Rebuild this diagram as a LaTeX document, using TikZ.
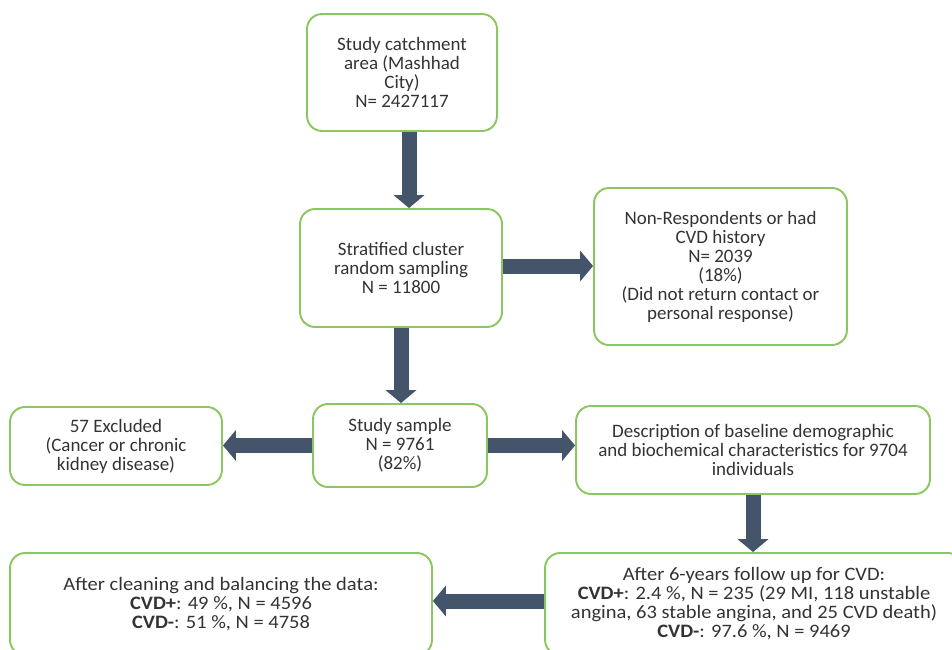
\documentclass[tikz,border=0pt]{standalone}
\usepackage{fontspec}
\setmainfont{Carlito}
\newfontfamily\widefont[FakeStretch=1.08]{Carlito}
\usetikzlibrary{arrows.meta, calc}
\definecolor{boxgreen}{RGB}{140,198,96}
\definecolor{arrowslate}{RGB}{68,84,106}

\begin{document}
\begin{tikzpicture}[x=0.02cm, y=-0.02cm,
  every node/.style={font=\fontsize{10.8}{10.8}\selectfont, text=black!80},
  flowbox/.style={draw=boxgreen, line width=1.1pt, rounded corners=0.3cm, align=center, inner sep=0pt},
  widebox/.style={flowbox, font=\widefont\fontsize{10.8}{10.8}\selectfont},
  blockarr/.style={draw=arrowslate, line width=0.3cm, -{Triangle[length=0.26cm, width=0.62cm, line width=0pt]}}]
  \useasboundingbox (0,0) rectangle (952,649);
  \clip (0,0) rectangle (952,649);
  % boxes
  \node[flowbox, minimum width=3.8cm, minimum height=2.34cm] (catch) at (402,72.5) {Study catchment\\area (Mashhad\\City)\\N= 2427117};
  \node[flowbox, minimum width=4.04cm, minimum height=2.36cm] (strat) at (401,268) {Stratified cluster\\random sampling\\N = 11800};
  \node[flowbox, minimum width=5.06cm, minimum height=3.14cm] (nonresp) at (720.5,266.5) {Non-Respondents or had\\CVD history\\N= 2039\\(18\%)\\(Did not return contact or\\personal response)};
  \node[flowbox, minimum width=4.24cm, minimum height=1.56cm] (excl) at (116,446) {57 Excluded\\(Cancer or chronic\\kidney disease)};
  \node[flowbox, minimum width=3.48cm, minimum height=1.66cm] (sample) at (400,445.5) {Study sample\\N = 9761\\(82\%)};
  \node[flowbox, minimum width=7.08cm, minimum height=1.76cm] (descr) at (753,450) {Description of baseline demographic\\and biochemical characteristics for 9704\\individuals};
  \node[widebox, minimum width=8.36cm, minimum height=2.04cm] (follow) at (754,604) {After 6-years follow up for CVD:\\\textbf{CVD+}: 2.4 \%, N = 235 (29 MI, 118 unstable\\angina, 63 stable angina, and 25 CVD death)\\\textbf{CVD-}: 97.6 \%, N = 9469};
  \node[widebox, minimum width=8.44cm, minimum height=2.04cm] (clean) at (221,604) {After cleaning and balancing the data:\\\textbf{CVD+}: 49 \%, N = 4596\\\textbf{CVD-}: 51 \%, N = 4758};
  % block arrows
  \draw[blockarr] ($(catch.south)+(7,0)$) -- ($(strat.north)+(8,0)$);
  \draw[blockarr] ($(strat.east)+(0,-2)$) -- ($(strat.east -| nonresp.west)+(0,-2)$);
  \draw[blockarr] (strat.south) -- (strat.south |- sample.north);
  \draw[blockarr] (sample.west) -- (sample.west -| excl.east);
  \draw[blockarr] (sample.east) -- (sample.east -| descr.west);
  \draw[blockarr] (descr.south) -- (descr.south |- follow.north);
  \draw[blockarr] ($(follow.west)+(0,-3)$) -- ($(follow.west -| clean.east)+(0,-3)$);
\end{tikzpicture}
\end{document}
